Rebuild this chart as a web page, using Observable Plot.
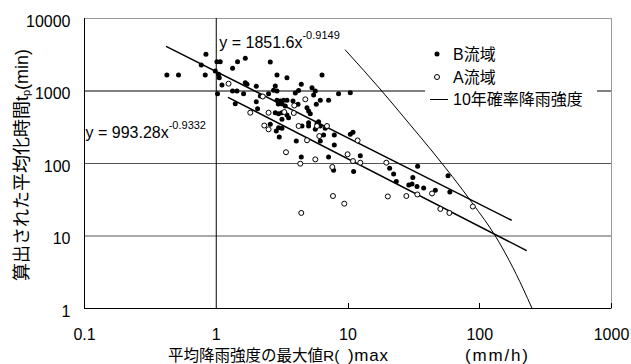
<!DOCTYPE html>
<html><head><meta charset="utf-8">
<script src="https://cdn.jsdelivr.net/npm/d3@7"></script>
<script src="https://cdn.jsdelivr.net/npm/@observablehq/plot@0.6"></script>
<style>
body{margin:0;background:#fff;}
#chart{position:relative;width:631px;height:364px;}
#chart svg{display:block;}
</style></head><body><div id="chart"></div>
<script>
// ---- data ----
const xTicks = [0.1, 1, 10, 100, 1000];
const yTicks = [1, 10, 100, 1000, 10000];
const yGrid = [10, 100, 1000];
const xGrid = [1];
const innerTicks = [10, 100, 1000];

// B流域 (filled dots)
const bX = [0.835,0.769,0.422,0.517,0.825,0.983,1.012,1.072,1.041,1.054,1.451,1.330,1.661,1.105,1.661,1.711,2.012,1.023,1.330,1.436,1.612,1.394,2.012,2.059,
  2.570,2.890,3.442,6.349,4.419,2.805,2.724,2.890,2.495,4.217,3.981,5.330,5.646,5.481,8.483,10.41,2.159,2.890,3.062,3.244,3.442,2.957,3.154,3.342,3.823,4.173,
  6.163,7.123,5.744,4.883,5.022,2.805,2.972,3.154,3.540,3.442,5.173,5.981,2.570,2.972,3.154,5.022,4.474,5.022,5.816,6.163,6.722,5.646,6.527,7.870,6.163,7.870,
  10.41,10.91,4.051,12.40,4.419,7.123,7.775,11.03,3.154,33.77,20.70,22.20,23.27,31.05,28.95,30.62,33.41,37.50,46.02,57.44,59.29,2.855,3.008];
const bY = [3206,2284,1662,1662,1662,1888,2536,2536,1699,1526,2536,2056,2825,1210,1302,1237,1161,918,1000,1000,918,668,712,570,
  2512,1662,1526,1662,1237,1172,1022,1000,918,1016,938,1110,1000,881,918,948,853,744,728,744,744,662,662,621,728,656,
  744,744,656,589,530,502,486,502,428,467,486,377,347,312,306,329,329,365,354,329,306,296,247,247,204,180,
  253,269,204,128,123,123,80.6,77.6,407,91.5,85.9,71.7,56.4,64.1,50.5,52.1,48.2,45.9,42.7,67.9,40.4,281,232];

// A流域 (open circles)
const aX = [1.240,2.255,1.812,2.314,4.741,3.911,2.495,3.283,3.877,4.217,5.816,6.927,2.495,6.054,4.883,11.83,3.383,5.646,4.343,7.600,9.93,10.91,12.40,19.53,
  7.69,9.37,20.05,27.72,33.59,43.43,50.2,58.8,88.6,4.419];
const aY = [1261,840,502,334,768,631,502,513,497,329,329,329,296,239,209,208,143,114,99.4,89.5,134,108,102.6,102.6,
  35.6,27.9,35.1,35.6,37.4,38.6,23.6,20.8,25.5,20.8];

// 10年確率降雨強度 curve
const curveX = [9.54, 18.06, 28.05, 43.4, 88.9, 131.3, 214, 249.5];
const curveY = [3678, 1000, 385.6, 148.7, 27.6, 10, 1.86, 1];

// regression lines (end points)
const upperX = [0.42, 173];
const upperY = [4096, 16.6];
const lowerX = [1.24, 225];
const lowerY = [812, 6.34];

// equation labels
const eqText = ["y = 1851.6x", "y = 993.28x"];
const eqSup = ["-0.9149", "-0.9332"];
const eqX = [1.036, 0.1];
const eqY = [3956, 227];

const legendLabels = ["B流域", "A流域", "10年確率降雨強度"];
const xTitleParts = ["平均降雨強度の最大値R(", ")max", "(mm/h)"];
const yTitleMain = "算出された平均化時間t", yTitleSub = "p", yTitleEnd = "(min)";

// ---- build ----
const FONT = '"Liberation Sans", Arial, "Noto Sans CJK JP", sans-serif';
const bData = bX.map((x, i) => ({x, y: bY[i]}));
const aData = aX.map((x, i) => ({x, y: aY[i]}));
const curveData = curveX.map((x, i) => ({x, y: curveY[i]}));
const upperData = upperX.map((x, i) => ({x, y: upperY[i]}));
const lowerData = lowerX.map((x, i) => ({x, y: lowerY[i]}));
const eqData = eqText.map((t, i) => ({text: t, x: eqX[i], y: eqY[i]}));

const chart = Plot.plot({
  width: 631, height: 364,
  marginLeft: 84, marginRight: 20, marginTop: 18, marginBottom: 56,
  style: {fontFamily: FONT, fontSize: "16px", background: "white", color: "black"},
  x: {type: "log", domain: [0.1, 1000]},
  y: {type: "log", domain: [1, 10000]},
  marks: [
    Plot.frame({stroke: "#9a9a9a"}),
    Plot.ruleY(yGrid, {stroke: d => d === 1000 ? "#000000" : "#555555", strokeWidth: 1}),
    Plot.ruleX(xGrid, {stroke: "#000", strokeWidth: 1}),
    Plot.ruleX([xTicks[0]], {stroke: "#000"}),
    Plot.ruleY([yTicks[0]], {stroke: "#000"}),
    Plot.axisX({ticks: xTicks, tickSize: 0, tickPadding: 20, tickFormat: d => String(d), label: null, fontSize: 16}),
    Plot.axisY({ticks: yTicks, tickSize: 0, tickPadding: 14, tickFormat: d => String(d), label: null, dy: 3, fontSize: 16}),
    Plot.line(upperData, {x: "x", y: "y", stroke: "black", strokeWidth: 1.5}),
    Plot.line(lowerData, {x: "x", y: "y", stroke: "black", strokeWidth: 1.5}),
    Plot.line(curveData, {x: "x", y: "y", stroke: "black", strokeWidth: 1, curve: "monotone-x"}),
    Plot.dot(bData, {x: "x", y: "y", r: 2.5, fill: "black"}),
    Plot.dot(aData, {x: "x", y: "y", r: 2.5, fill: "white", stroke: "black", strokeWidth: 1}),
    Plot.text(eqData, {x: "x", y: "y", text: "text", textAnchor: "start", lineAnchor: "bottom", fontSize: 16, dx: 1})
  ]
});
document.getElementById("chart").appendChild(chart);

const svg = d3.select(chart);
const sx = chart.scale("x");
const bottom = 364 - 56;

// inward ticks on x axis
const tg = svg.append("g").attr("stroke", "black");
innerTicks.forEach(v => {
  const px = Math.round(sx.apply(v)) + 0.5;
  tg.append("line").attr("x1", px).attr("x2", px).attr("y1", bottom).attr("y2", bottom - 5);
});

// superscripts on equations
svg.selectAll("text").filter(function() { return eqText.includes(this.textContent); })
  .each(function() {
    const i = eqText.indexOf(this.textContent);
    d3.select(this).append("tspan").attr("dy", -9).attr("font-size", 11).text(eqSup[i]);
  });

// axis titles
const xt = svg.append("text").attr("y", 354.5).attr("text-anchor", "start")
  .attr("dominant-baseline", "central").attr("fill", "black");
xt.append("tspan").attr("x", 168).attr("font-size", 15.5).text(xTitleParts[0]);
xt.append("tspan").attr("x", 348).attr("font-size", 17).attr("letter-spacing", 0.7).text(xTitleParts[1]);
xt.append("tspan").attr("x", 465).attr("font-size", 17).attr("letter-spacing", 1.8).text(xTitleParts[2]);

const yt = svg.append("text").attr("transform", "translate(22,165) rotate(-90)")
  .attr("text-anchor", "middle").attr("dominant-baseline", "central").attr("font-size", 18).attr("fill", "black");
yt.append("tspan").text(yTitleMain);
yt.append("tspan").attr("font-size", 11).attr("dy", 4).text(yTitleSub);
yt.append("tspan").attr("dy", -4).text(yTitleEnd);

// legend
const lg = svg.append("g");
lg.append("rect").attr("x", 425).attr("y", 38).attr("width", 172).attr("height", 72).attr("fill", "white");
lg.append("circle").attr("cx", 437).attr("cy", 54).attr("r", 2.5).attr("fill", "black");
lg.append("circle").attr("cx", 437).attr("cy", 77).attr("r", 2.5).attr("fill", "white").attr("stroke", "black");
lg.append("line").attr("x1", 430).attr("x2", 448).attr("y1", 99.5).attr("y2", 99.5).attr("stroke", "black");
legendLabels.forEach((t, i) => {
  lg.append("text").attr("x", 453).attr("y", [54, 77, 99][i]).attr("text-anchor", "start")
    .attr("dominant-baseline", "central").attr("font-size", 16).attr("fill", "black").text(t);
});
</script>
</body></html>
